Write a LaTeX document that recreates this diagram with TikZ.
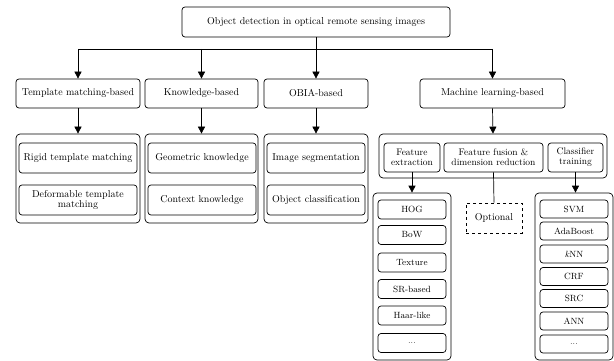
\documentclass[tikz,border=0pt]{standalone}
\usetikzlibrary{arrows.meta}
\begin{document}
\begin{tikzpicture}[x=1pt, y=-1pt, color = {black},
    box/.style = {draw, rounded corners=3pt, line width=0.7pt, inner sep=1pt, align=center, font=\fontsize{10}{10.5}\selectfont},
    frame/.style = {draw, rounded corners=4pt, line width=0.7pt},
    item/.style = {box, minimum width=68pt, font=\fontsize{9}{10}\selectfont},
    arr/.style = {-{Triangle[length=7pt, width=7pt]}, line width=0.7pt},
    link/.style = {line width=0.7pt}]
    \useasboundingbox (0,0) rectangle (614,361);
    \node[box, minimum width=268pt, minimum height=30pt] (top) at (316,22) {Object detection in optical remote sensing images};
    \node[box, minimum width=124pt, minimum height=29pt] (tm) at (78,93.5) {Template matching-based};
    \node[box, minimum width=113pt, minimum height=29pt] (kb) at (201.5,93.5) {Knowledge-based};
    \node[box, minimum width=104pt, minimum height=29pt] (ob) at (316,93.5) {OBIA-based};
    \node[box, minimum width=145pt, minimum height=29pt] (ml) at (492.5,93.5) {Machine learning-based};
    \node[frame, minimum width=124pt, minimum height=89pt] (tmc) at (78,178.5) {};
    \node[frame, minimum width=113pt, minimum height=89pt] (kbc) at (201.5,178.5) {};
    \node[frame, minimum width=104pt, minimum height=89pt] (obc) at (316,178.5) {};
    \node[box, minimum width=118pt, minimum height=30pt] (rigid) at (78,158) {Rigid template matching};
    \node[box, minimum width=118pt, minimum height=30pt] (deform) at (78,200) {Deformable template\\matching};
    \node[box, minimum width=108pt, minimum height=30pt] (geo) at (202,158) {Geometric knowledge};
    \node[box, minimum width=108pt, minimum height=30pt] (ctx) at (202,200) {Context knowledge};
    \node[box, minimum width=98pt, minimum height=30pt] (seg) at (316,158) {Image segmentation};
    \node[box, minimum width=98pt, minimum height=30pt] (cls) at (316,200) {Object classification};
    \node[frame, minimum width=228pt, minimum height=44pt] (mlc) at (493,156) {};
    \node[box, minimum width=56pt, minimum height=29pt, font=\fontsize{9.5}{10}\selectfont] (fe) at (412,157.5) {Feature\\extraction};
    \node[box, minimum width=99pt, minimum height=29pt, font=\fontsize{9.5}{10}\selectfont] (ff) at (493.5,157.5) {Feature fusion \&\\dimension reduction};
    \node[box, minimum width=55pt, minimum height=29pt, font=\fontsize{9.5}{10}\selectfont] (ct) at (575.5,157.5) {Classifier\\training};
    \node[frame, minimum width=78pt, minimum height=167pt] (fel) at (412,276.5) {};
    \node[frame, minimum width=78pt, minimum height=167pt] (ctl) at (574,276.5) {};
    \node[item, minimum height=19pt] (hog) at (412,209.5) {HOG};
    \node[item, minimum height=19pt] (bow) at (412,235) {BoW};
    \node[item, minimum height=19pt] (tex) at (412,262.5) {Texture};
    \node[item, minimum height=19pt] (srb) at (412,289) {SR-based};
    \node[item, minimum height=19pt] (haar) at (412,315.5) {Haar-like};
    \node[item, minimum height=19pt] (fdots) at (412,343) {...};
    \node[item, minimum height=18pt] (svm) at (574,209) {SVM};
    \node[item, minimum height=18pt] (ada) at (574,231) {AdaBoost};
    \node[item, minimum height=18pt] (knn) at (574,254) {\textit{k}NN};
    \node[item, minimum height=18pt] (crf) at (574,276.5) {CRF};
    \node[item, minimum height=18pt] (src) at (574,298.5) {SRC};
    \node[item, minimum height=18pt] (ann) at (574,321) {ANN};
    \node[item, minimum height=18pt] (cdots) at (574,344) {...};
    \node[box, dashed, rounded corners=0pt, minimum width=56pt, minimum height=30pt] (opt) at (494,218) {Optional};
    \coordinate (split) at (316,49);
    \draw[link] (tm.north |- split) -- (ml.north |- split);
    \draw[arr] (top.south) -- (ob.north);
    \draw[arr] (tm.north |- split) -- (tm.north);
    \draw[arr] (kb.north |- split) -- (kb.north);
    \draw[arr] (ml.north |- split) -- (ml.north);
    \draw[arr] (tm.south) -- (tmc.north);
    \draw[arr] (kb.south) -- (kbc.north);
    \draw[arr] (ob.south) -- (obc.north);
    \draw[arr] (ml.south) -- (mlc.north);
    \draw[arr] (fe.south) -- (fel.north);
    \draw[arr] (ct.south) -- (ct.south |- ctl.north);
    \draw[link] (ff.south) -- (opt.north);
\end{tikzpicture}
\end{document}
